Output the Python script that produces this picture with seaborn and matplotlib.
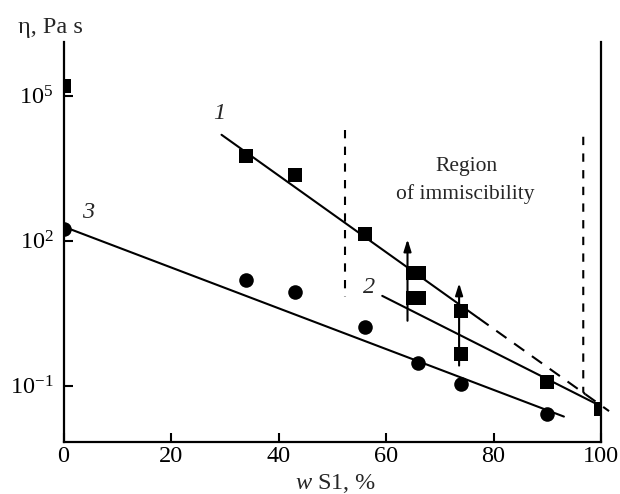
import matplotlib
matplotlib.use("Agg")
import matplotlib.pyplot as plt
import numpy as np
import pandas as pd
import seaborn as sns
from matplotlib.ticker import FixedLocator, NullLocator, FixedFormatter

sns.set_style("ticks")
plt.rcParams["font.family"] = ["Liberation Serif", "DejaVu Serif"]
plt.rcParams["mathtext.fontset"] = "custom"
plt.rcParams["mathtext.rm"] = "Liberation Serif"
plt.rcParams["mathtext.it"] = "Liberation Serif:italic"

# ---- data ----
s1_x = [0, 34, 43, 56, 65, 66.2, 65, 66.2, 74, 74, 90, 100]
s1_eta = [1.6e5, 5750, 2290, 138, 21.9, 21.9, 6.6, 6.6, 3.5, 0.452, 0.117, 0.033]
s3_x = [0, 34, 43, 56, 66, 74, 90]
s3_eta = [174, 15.5, 8.5, 1.62, 0.288, 0.107, 0.0257]

line1_x = [29.4, 77.2]
line1_eta = [15500, 2.5]
line1_ext_x = [77.2, 101.5]
line1_ext_eta = [2.5, 0.0297]
line2_x = [59.3, 99.5]
line2_eta = [7.2, 0.04]
line3_x = [0, 93.1]
line3_eta = [195, 0.0229]

bound1_x = [52.4, 52.4]
bound1_eta = [19500, 6.7]
bound2_x = [96.7, 96.7, 97.9]
bound2_eta = [14100, 0.074, 0.05]

arrow_x = [64.0, 73.6]
arrow_from = [2.2, 0.26]
arrow_to = [107, 13.2]

yticks = [1e-1, 1e2, 1e5]
ytick_labels = [r"$10^{-1}$", r"$10^{2}$", r"$10^{5}$"]
xticks = [0, 20, 40, 60, 80, 100]

fig = plt.figure(figsize=(6.2, 4.94), dpi=100)
ax = fig.add_axes([63.5 / 620, 1 - 441.7 / 494, (601 - 63.5) / 620, (441.7 - 42) / 494])

df1 = pd.DataFrame({"x": s1_x, "eta": s1_eta})
df3 = pd.DataFrame({"x": s3_x, "eta": s3_eta})

lw = 1.5
sns.lineplot(x=line1_x, y=line1_eta, ax=ax, color="black", lw=lw, sort=False)
sns.lineplot(x=line2_x, y=line2_eta, ax=ax, color="black", lw=lw, sort=False)
sns.lineplot(x=line3_x, y=line3_eta, ax=ax, color="black", lw=lw, sort=False)
l = ax.plot(line1_ext_x, line1_ext_eta, color="black", lw=lw, ls=(0, (6, 4.5)), clip_on=False)
ax.plot(bound1_x, bound1_eta, color="black", lw=lw, ls=(0, (4, 4)))
ax.plot(bound2_x, bound2_eta, color="black", lw=lw, ls=(0, (4, 4)))

sns.scatterplot(data=df1, x="x", y="eta", ax=ax, marker="s", s=95, color="black",
                linewidth=0, zorder=5)
sns.scatterplot(data=df3, x="x", y="eta", ax=ax, marker="o", s=110, color="black",
                linewidth=0, zorder=5)

for xa, y0, y1 in zip(arrow_x, arrow_from, arrow_to):
    ax.annotate("", xy=(xa, y1), xytext=(xa, y0),
                arrowprops=dict(arrowstyle="-|>,head_length=0.7,head_width=0.22",
                                color="black", lw=lw, shrinkA=0, shrinkB=0))

ax.set_yscale("log")
ax.set_xlim(0, 100)
ax.set_ylim(10 ** -2.16, 10 ** 6.11)
ax.yaxis.set_major_locator(FixedLocator(yticks))
ax.yaxis.set_major_formatter(FixedFormatter(ytick_labels))
ax.yaxis.set_minor_locator(NullLocator())
ax.xaxis.set_major_locator(FixedLocator(xticks))
ax.set_xlabel("")
ax.set_ylabel("")

for side in ["left", "bottom", "right"]:
    ax.spines[side].set_linewidth(1.6)
    ax.spines[side].set_color("black")
ax.spines["top"].set_visible(False)
ax.tick_params(axis="both", direction="in", length=6.8, width=1.5, labelsize=17.5,
               colors="black")
ax.tick_params(axis="y", pad=7)
ax.tick_params(axis="x", pad=3)
ax.tick_params(axis="y", right=False)

ax.text(74.9, 3500, "Region", fontsize=15.5, ha="center", va="center")
ax.text(74.8, 930, "of immiscibility", fontsize=15.5, ha="center", va="center")
ax.text(28.9, 43600, "1", fontsize=17.5, style="italic", ha="center", va="center")
ax.text(56.9, 10.5, "2", fontsize=17.5, style="italic", ha="center", va="center")
ax.text(4.55, 380, "3", fontsize=17.5, style="italic", ha="center", va="center")

fig.text(18 / 620, 1 - 28 / 494, "η, Pa s", fontsize=17.5, ha="left", va="center")
fig.text(336 / 620, 1 - 483 / 494, r"$\mathit{w}$ S1, %", fontsize=17.5,
         ha="center", va="center")

fig.savefig("out.png", dpi=100)
